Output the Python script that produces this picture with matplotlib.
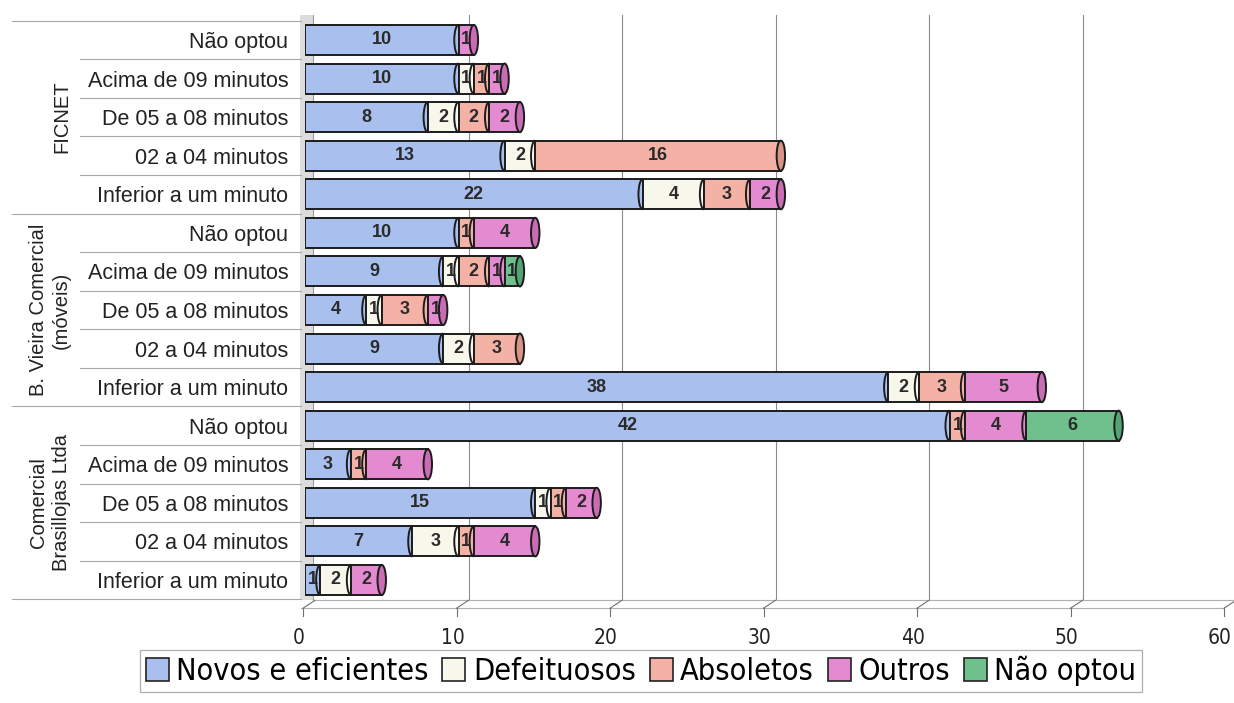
import matplotlib
matplotlib.use("Agg")
import matplotlib.pyplot as plt
from matplotlib.patches import Ellipse, Arc, Patch, Rectangle
from matplotlib.lines import Line2D
from matplotlib.transforms import IdentityTransform, blended_transform_factory, ScaledTranslation

# ---- data -------------------------------------------------------------
groups = ["FICNET", "B. Vieira Comercial\n(móveis)", "Comercial\nBrasillojas Ltda"]
periods = ["Não optou", "Acima de 09 minutos", "De 05 a 08 minutos",
           "02 a 04 minutos", "Inferior a um minuto"]
series_names = ["Novos e eficientes", "Defeituosos", "Absoletos", "Outros", "Não optou"]

novos = [10, 10, 8, 13, 22, 10, 9, 4, 9, 38, 42, 3, 15, 7, 1]
defeituosos = [0, 1, 2, 2, 4, 0, 1, 1, 2, 2, 0, 0, 1, 3, 2]
absoletos = [0, 1, 2, 16, 3, 1, 2, 3, 3, 3, 1, 1, 1, 1, 0]
outros = [1, 1, 2, 0, 2, 4, 1, 1, 0, 5, 4, 4, 2, 4, 2]
nao_optou = [0, 0, 0, 0, 0, 0, 1, 0, 0, 0, 6, 0, 0, 0, 0]

x_ticks = [0, 10, 20, 30, 40, 50, 60]

colors = ["#a9c0ef", "#f7f7ec", "#f4b2a6", "#e48ad0", "#6fc08d"]
cap_colors = ["#8ea6d8", "#dcdccc", "#d99488", "#c86db3", "#52a572"]
edge = "#1c1c1c"

series = [novos, defeituosos, absoletos, outros, nao_optou]
labels = [p for _ in groups for p in periods]
n = len(labels)

W, H = 1234, 703
fig = plt.figure(figsize=(W / 100, H / 100), dpi=100)
fig.patch.set_facecolor("white")

x0_px, unit_px = 305, 15.35
top_px, pitch = 40, 38.57
ax = fig.add_axes([x0_px / W, 1 - (top_px + pitch * (n - 0.5)) / H,
                   unit_px * 60 / W, pitch * n / H])
ax.set_xlim(0, 60)
ax.set_ylim(n - 0.5, -0.5)
for s in ax.spines.values():
    s.set_visible(False)
ax.set_facecolor("none")

text_font = ["Liberation Sans", "DejaVu Sans"]
narrow = dict(family=["DejaVu Sans"], stretch="condensed")

ax.set_yticks(range(n))
ax.set_yticklabels(labels, fontsize=15.5, family=text_font, color="#222222")
ax.tick_params(axis="y", length=0, pad=12)
ax.set_xticks(x_ticks)
ax.set_xticklabels([str(t) for t in x_ticks], fontsize=15, color="#222222", **narrow)
ax.tick_params(axis="x", length=0, pad=21)
fig.canvas.draw()


def px(xv):
    return ax.transData.transform((xv, 0))[0]


def py(yv):
    return ax.transData.transform((0, yv))[1]


idt = IdentityTransform()
y_top = H - 15
y_back = py(n - 0.5) - 1
y_front = y_back - 8


def deco(xs, ys, color, lw=0.8):
    ax.add_line(Line2D(xs, ys, transform=idt, color=color, lw=lw, zorder=1, clip_on=False))


# side wall of the 3-D frame
ax.add_patch(Rectangle((px(0) - 5, y_back), 13, y_top - y_back, transform=idt,
                       facecolor="#dcdcdc", edgecolor="none", zorder=0.5, clip_on=False))
deco([px(0) + 8, px(0) + 8], [y_back, y_top], "#9a9a9a")

# vertical gridlines on the back wall
for t in x_ticks[1:]:
    deco([px(t) + 10, px(t) + 10], [y_back, y_top], "#8c8c8c")

# floor with slanted ticks
deco([px(0) + 8, px(60) + 10], [y_back, y_back], "#b0b0b0")
deco([px(0) - 4, px(60) - 2], [y_front, y_front], "#b0b0b0")
for t in x_ticks:
    deco([px(t) - 2, px(t) + 10], [y_front, y_back], "#707070")
    deco([px(t) - 2, px(t) - 2], [y_front, y_front - 8], "#707070")

# shift tick labels to sit under the front edge of the floor
for lbl in ax.get_xticklabels():
    lbl.set_transform(lbl.get_transform() + ScaledTranslation(-6 / 100, 0, fig.dpi_scale_trans))

# category table on the left
tbl = blended_transform_factory(idt, ax.transData)
for i in range(n + 1):
    yb = i - 0.5
    start = 12 if i % 5 == 0 else 80
    ax.add_line(Line2D([start, px(0) - 4], [yb, yb], transform=tbl,
                       color="#a8a8a8", lw=0.8, clip_on=False))
for g, name in enumerate(groups):
    xc = 62 if "\n" not in name else 50
    ax.text(xc, g * 5 + 2, name, transform=tbl, rotation=90, ha="center", va="center",
            fontsize=14.5, family=text_font, color="#222222", linespacing=1.3,
            multialignment="center", clip_on=False)

# stacked cylindrical bars
bar_h = 0.78
cap_w = 0.55
for i in range(n):
    left = 0
    last = None
    for j, vals in enumerate(series):
        v = vals[i]
        if v <= 0:
            continue
        ax.barh(i, v, left=left, height=bar_h, color=colors[j], edgecolor=edge,
                linewidth=1.4, zorder=3)
        if left > 0:
            ax.add_patch(Arc((left, i), cap_w, bar_h, theta1=90, theta2=270,
                             color=edge, lw=1.4, zorder=4))
        ax.text(left + v / 2, i, str(v), ha="center", va="center", fontsize=13,
                fontweight="bold", family=text_font, color="#2a2a2a", zorder=6)
        left += v
        last = j
    ax.add_patch(Ellipse((left, i), cap_w, bar_h, facecolor=cap_colors[last],
                         edgecolor=edge, lw=1.4, zorder=5))

# legend
handles = [Patch(facecolor=c, edgecolor="#222222", lw=1.2) for c in colors]
leg = fig.legend(handles, series_names, loc="center", bbox_to_anchor=(641 / W, 1 - 671 / H),
                 ncol=5, frameon=True, fancybox=False, handlelength=0.75, handleheight=0.75,
                 handletextpad=0.25, columnspacing=0.45, borderpad=0.2,
                 prop={"size": 22, **narrow})
leg.get_frame().set_edgecolor("#9a9a9a")
leg.get_frame().set_linewidth(0.9)

fig.savefig("out.png", dpi=100)
